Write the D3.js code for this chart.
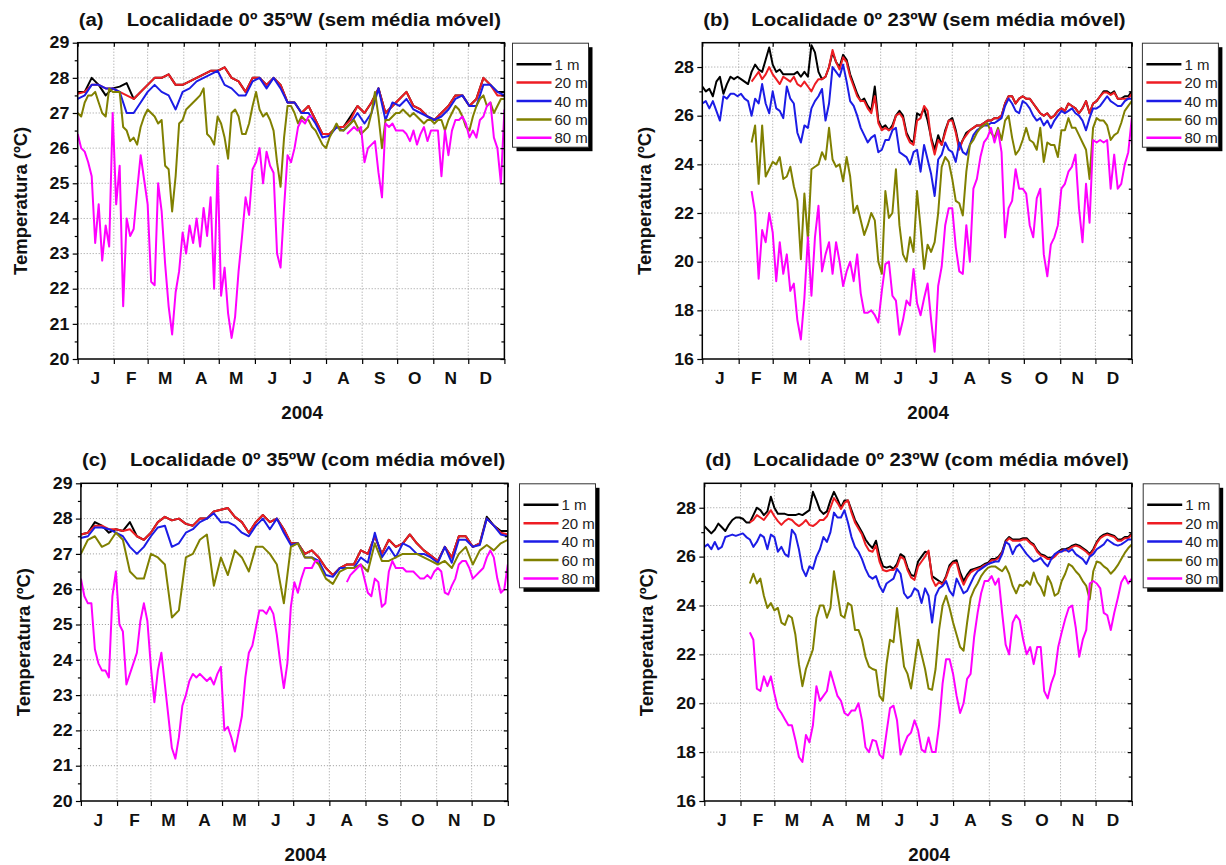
<!DOCTYPE html>
<html>
<head>
<meta charset="utf-8">
<script src="https://cdn.jsdelivr.net/npm/d3@7"></script>
<style>
  body { margin: 0; background: #fff; }
  svg { font-family: 'Liberation Sans', Arial, sans-serif; }
</style>
</head>
<body>
<div id="chart"></div>
<script>
var monthLabels = ['J', 'F', 'M', 'A', 'M', 'J', 'J', 'A', 'S', 'O', 'N', 'D'];
var depthLabels = ['1 m', '20 m', '40 m', '60 m', '80 m'];
var depthColors = ['#000000', '#ee1d23', '#1c1ce6', '#808000', '#ff00ff'];
var yearLabel = '2004';
var yTitle = 'Temperatura (ºC)';

// (a) 0º 35ºW, daily values without moving average (1/20/40 m every 6 days, 60/80 m every 3 days)
var a_1m = [27.6,27.6,28.0,27.8,27.5,27.7,27.75,27.85,27.4,27.6,27.8,28.0,28.0,28.1,27.8,27.8,27.9,28.0,28.1,28.2,28.2,28.3,28.0,27.9,27.6,28.0,28.0,27.8,28.0,27.8,27.3,27.3,27.0,27.2,26.8,26.4,26.4,26.6,26.6,26.9,27.2,27.0,27.3,27.7,27.0,27.2,27.4,27.6,27.2,27.1,26.9,26.8,27.0,27.2,27.5,27.5,27.2,27.4,28.0,27.8,27.6,27.6];
var a_20m = [27.55,27.6,27.8,27.8,27.7,27.7,27.6,27.5,27.4,27.6,27.8,28.0,28.0,28.1,27.8,27.8,27.9,28.0,28.1,28.2,28.2,28.3,28.0,27.9,27.6,28.0,28.0,27.8,28.0,27.8,27.3,27.3,27.0,27.2,26.8,26.4,26.4,26.6,26.6,26.8,27.2,27.0,27.3,27.7,27.0,27.2,27.4,27.6,27.2,27.1,26.9,26.8,27.0,27.2,27.5,27.5,27.2,27.4,28.0,27.8,27.5,27.5];
var a_40m = [27.4,27.5,27.8,27.8,27.7,27.7,27.6,27.0,27.0,27.3,27.6,27.8,27.6,27.5,27.1,27.6,27.7,27.9,28.0,28.1,28.2,27.8,27.7,27.5,27.5,27.9,28.0,27.7,28.0,27.7,27.3,27.3,27.0,27.0,26.7,26.3,26.35,26.6,26.5,26.7,27.0,26.7,27.0,27.7,26.8,27.3,27.2,27.4,27.1,27.0,26.9,26.8,26.9,27.1,27.4,27.5,27.2,27.2,27.8,27.8,27.6,27.5];
var a_60m = [27.0,26.9,27.3,27.5,27.5,27.6,27.3,27.0,26.9,27.7,
  27.6,27.6,27.6,26.6,26.5,26.2,26.3,26.1,26.6,26.9,
  27.1,27.0,26.9,26.7,26.8,25.5,25.4,24.2,25.2,26.7,
  26.8,27.1,27.2,27.3,27.4,27.5,27.7,26.4,26.3,26.1,
  26.9,26.7,26.3,25.7,27.0,27.1,26.9,26.4,26.4,26.7,
  27.2,27.6,27.1,26.9,27.0,26.8,26.5,25.6,24.9,26.3,
  27.2,27.2,27.0,26.7,26.9,26.8,26.8,26.6,26.5,26.3,
  26.1,26.0,26.3,26.5,26.7,26.5,26.5,26.6,26.7,26.8,
  26.6,26.4,26.5,26.6,27.0,27.6,26.9,26.0,26.8,26.8,
  26.9,27.0,27.0,27.1,27.0,26.9,27.0,26.9,26.8,26.7,
  26.8,26.8,26.7,26.8,26.8,26.5,26.8,27.0,27.2,27.1,
  26.9,26.6,26.5,26.9,27.2,27.4,27.5,27.2,27.3,27.0,
  27.2,27.4,27.4];
var a_80m = [26.4,26.0,25.9,25.6,25.2,23.3,24.4,22.8,23.8,23.2,
  27.0,24.4,25.5,21.5,24.0,23.5,23.7,24.8,25.8,25.1,
  24.4,22.2,22.1,25.0,24.2,22.7,21.5,20.7,21.9,22.5,
  23.6,23.0,23.8,23.3,24.0,23.2,24.3,23.5,24.6,22.0,
  25.5,21.8,22.6,21.3,20.6,21.2,22.5,23.5,24.6,24.1,
  25.4,25.6,26.0,25.0,25.9,25.5,25.3,23.0,22.6,24.3,
  25.8,25.6,26.0,26.6,26.8,26.7,26.9,26.9,null,null,
  null,null,null,null,null,null,null,26.4,26.5,26.6,
  26.5,26.6,25.6,26.0,26.1,26.2,25.3,24.6,26.7,26.6,
  26.7,26.5,26.5,26.5,26.4,26.2,26.5,26.1,26.4,26.6,
  26.2,26.5,26.5,26.5,25.2,26.5,25.8,26.5,26.8,26.8,
  26.9,26.7,26.3,26.5,26.3,26.8,26.9,27.2,27.3,26.3,
  26.0,25.0,27.1];

// (b) 0º 23ºW, without moving average (every 3 days)
var b_1m = [27.2,27.0,27.1,26.8,27.4,27.6,26.9,27.3,27.6,27.5,
  27.6,27.5,27.4,27.3,27.8,28.1,27.9,27.8,28.3,28.8,
  28.1,27.8,27.9,27.7,27.7,27.7,27.7,27.8,27.6,27.8,
  27.6,28.9,28.6,27.8,27.5,27.6,28.0,28.6,28.2,28.0,
  28.5,28.3,27.7,27.3,26.9,26.6,26.7,26.4,26.2,27.2,
  25.8,25.5,25.6,25.4,25.6,26.0,26.2,26.0,25.3,25.0,
  24.9,26.1,26.0,26.3,25.8,25.1,24.6,25.2,24.8,25.4,
  25.8,25.9,25.4,24.7,25.0,25.3,25.4,25.5,25.6,25.6,
  25.7,25.8,25.8,25.9,25.9,26.0,26.5,26.8,26.8,26.5,
  26.7,26.8,26.7,26.7,26.5,26.3,26.1,26.0,26.1,25.9,
  26.0,26.2,26.3,26.2,26.5,26.4,26.3,26.1,26.3,26.6,
  26.1,26.5,26.6,26.8,27.0,27.0,26.9,27.0,26.7,26.7,
  26.8,26.8,27.0];
var b_20m = [null,null,null,null,null,null,null,null,null,null,
  null,null,null,null,27.4,27.6,27.8,27.5,27.7,28.0,
  27.7,27.5,27.3,27.6,27.5,27.4,27.6,27.3,27.2,27.4,
  27.2,27.0,27.3,27.5,27.5,27.6,28.0,28.7,28.2,27.9,
  28.4,28.2,27.6,27.2,26.8,26.6,26.6,26.3,26.1,26.8,
  25.7,25.4,25.5,25.4,25.5,26.0,26.1,25.9,25.2,24.9,
  24.8,25.8,25.9,26.4,26.2,25.0,24.4,25.0,24.8,25.3,
  25.8,25.8,25.3,24.6,25.0,25.2,25.4,25.5,25.6,25.6,
  25.7,25.8,25.8,25.9,25.9,26.0,26.5,26.8,26.8,26.5,
  26.7,26.8,26.7,26.7,26.5,26.3,26.1,26.0,26.1,25.9,
  26.0,26.2,26.3,26.2,26.5,26.4,26.3,26.1,26.3,26.6,
  26.1,26.5,26.6,26.8,26.95,26.95,26.85,26.95,26.7,26.7,
  26.7,26.7,26.9];
var b_40m = [26.5,26.6,26.3,26.6,26.2,25.8,26.8,26.7,26.9,26.9,
  26.8,26.9,26.7,26.6,26.0,26.7,26.5,27.3,26.5,26.1,
  27.0,26.3,26.2,25.9,27.2,26.7,26.5,25.3,24.9,25.6,
  25.5,26.3,26.6,26.8,27.1,25.8,26.5,28.0,27.8,27.6,
  28.1,27.4,26.6,26.4,26.0,25.5,25.2,24.9,25.1,25.2,
  24.5,24.6,25.0,25.0,25.4,25.5,24.5,24.4,24.3,24.0,
  24.5,24.6,23.7,24.8,24.2,23.6,22.7,24.2,24.4,24.9,
  24.6,24.5,24.1,24.9,24.5,24.4,24.8,25.2,25.4,25.5,
  25.6,25.6,25.7,25.7,25.8,25.9,26.4,26.7,26.5,26.2,
  26.1,26.6,26.5,26.3,26.0,25.8,25.9,25.6,25.8,25.5,
  25.8,26.0,26.2,26.1,26.2,26.3,26.1,26.0,25.8,25.4,
  25.9,26.3,26.3,26.4,26.6,26.8,26.6,26.5,26.4,26.4,
  26.6,26.7,26.7];
var b_60m = [null,null,null,null,null,null,null,null,null,null,
  null,null,null,null,24.9,25.6,23.2,25.6,23.5,23.8,
  24.1,24.0,24.3,23.4,23.5,23.9,23.1,22.5,20.1,22.8,
  20.9,23.8,23.9,24.0,24.5,24.2,25.5,24.2,23.9,24.0,
  23.3,24.3,23.5,22.0,22.3,21.7,21.1,21.5,22.0,21.7,
  20.0,19.5,22.9,21.8,22.0,23.8,21.5,20.3,20.0,21.0,
  20.4,22.9,21.4,19.7,20.7,20.4,20.8,22.0,23.9,24.3,
  24.1,23.4,22.5,22.4,21.9,23.7,24.8,25.0,25.3,25.5,
  25.6,25.7,25.3,25.1,25.5,25.0,25.8,26.0,25.1,24.4,
  24.6,25.0,25.5,25.0,24.9,24.6,25.5,24.1,24.9,24.8,
  24.8,24.3,25.4,25.4,25.9,25.5,25.5,25.2,24.9,24.6,
  23.4,25.5,25.9,25.8,25.8,25.6,25.0,25.2,25.3,25.7,
  26.2,26.4,26.6];
var b_80m = [null,null,null,null,null,null,null,null,null,null,
  null,null,null,null,22.9,22.0,19.3,21.3,20.8,22.0,
  21.2,19.2,20.8,19.5,20.3,18.8,19.1,17.6,16.8,18.5,
  21.0,18.6,21.0,22.3,19.6,20.3,20.8,19.5,20.8,20.0,
  19.0,19.6,20.0,19.2,20.3,18.7,17.9,17.9,18.0,17.8,
  17.5,18.8,19.9,20.0,18.6,18.4,17.0,17.6,18.4,18.2,
  19.7,18.3,17.8,18.5,19.1,17.6,16.3,19.0,19.8,21.5,
  22.2,22.2,20.6,19.6,19.5,21.5,20.0,23.0,23.4,24.3,
  24.9,25.1,25.5,24.9,25.4,24.5,21.0,22.2,22.5,23.8,
  23.0,23.0,22.8,21.5,21.0,22.6,23.0,20.3,19.4,20.7,
  21.0,21.5,23.0,23.2,23.7,23.9,24.4,22.2,20.8,23.2,
  21.6,25.0,24.9,25.0,24.9,25.0,23.0,24.4,23.0,23.2,
  24.0,24.5,25.9];

// (c) 0º 35ºW, with moving average (1/20/40/60 m every 6 days, 80 m every 3 days)
var c_1m = [27.55,27.6,27.9,27.8,27.6,27.7,27.65,27.9,27.5,27.4,27.6,27.9,28.05,27.95,28.0,27.85,27.8,28.0,28.0,28.2,28.25,28.3,28.05,27.9,27.6,27.9,28.1,27.9,28.0,27.7,27.3,27.3,27.0,27.1,26.9,26.6,26.4,26.6,26.7,26.7,27.1,27.0,27.5,27.0,27.4,27.2,27.3,27.55,27.3,27.1,26.95,26.8,27.2,26.9,27.5,27.5,27.2,27.3,28.05,27.8,27.65,27.65];
var c_20m = [27.55,27.6,27.8,27.8,27.7,27.7,27.65,27.7,27.5,27.4,27.6,27.9,28.05,27.95,28.0,27.85,27.8,28.0,28.0,28.2,28.25,28.3,28.05,27.9,27.6,27.9,28.1,27.9,28.0,27.7,27.3,27.3,27.0,27.1,26.9,26.6,26.4,26.6,26.7,26.7,27.1,27.0,27.5,27.0,27.4,27.2,27.3,27.55,27.3,27.1,26.95,26.8,27.2,26.9,27.5,27.5,27.2,27.3,28.0,27.8,27.6,27.55];
var c_40m = [27.45,27.5,27.75,27.75,27.7,27.6,27.5,27.2,27.0,27.2,27.5,27.75,27.8,27.2,27.3,27.6,27.7,27.9,28.0,28.15,27.9,27.9,27.8,27.6,27.5,27.8,28.0,27.7,28.0,27.6,27.25,27.3,26.9,26.9,26.8,26.4,26.35,26.6,26.6,26.6,26.9,26.75,27.6,26.9,27.2,26.9,27.3,27.2,27.0,27.0,26.9,26.75,27.2,26.75,27.4,27.4,27.2,27.25,28.0,27.8,27.55,27.5];
var c_60m = [27.0,27.4,27.5,27.2,27.3,27.6,27.4,26.5,26.3,26.3,27.0,26.9,26.7,25.2,25.4,26.9,27.0,27.4,27.55,26.1,26.9,26.4,27.1,26.9,26.5,27.2,27.2,27.0,26.7,25.6,27.2,27.3,26.9,26.9,26.7,26.3,26.15,26.5,26.6,26.6,26.7,26.5,27.3,26.8,26.8,26.9,27.0,27.0,27.0,26.9,26.8,26.7,26.8,26.6,27.0,27.2,26.7,27.1,27.25,27.1,27.3,27.4];
var c_80m = [26.3,25.8,25.6,25.6,24.3,23.9,23.7,23.7,23.5,25.8,
  26.5,25.0,24.8,23.3,23.6,23.9,24.2,25.1,25.6,25.1,
  23.8,22.8,23.7,24.2,23.3,22.4,21.5,21.2,21.8,22.7,
  23.0,23.4,23.6,23.5,23.6,23.5,23.4,23.5,23.3,23.6,
  23.8,22.0,22.1,21.8,21.4,21.9,22.4,23.5,24.2,24.4,
  24.9,25.4,25.4,25.3,25.5,25.3,24.7,23.9,23.2,23.9,
  25.5,26.2,25.9,26.3,26.6,26.6,26.6,26.8,26.8,null,
  null,null,null,null,null,null,26.2,26.4,26.5,26.6,
  26.7,26.3,25.9,25.8,26.3,26.2,25.5,25.6,26.5,26.8,
  26.6,26.6,26.6,26.5,26.5,26.5,26.4,26.3,26.3,26.4,
  26.3,26.5,26.6,26.5,25.9,25.85,26.1,26.3,26.7,26.8,
  26.8,26.6,26.3,26.4,26.5,26.6,26.9,27.1,26.9,26.3,
  25.9,26.0,26.7];

// (d) 0º 23ºW, with moving average (every 3 days)
var d_1m = [27.25,27.1,26.95,27.1,27.35,27.2,27.05,27.3,27.5,27.6,
  27.6,27.55,27.4,27.4,27.7,28.0,27.9,27.7,27.85,28.45,
  28.0,27.75,27.75,27.75,27.7,27.7,27.7,27.75,27.7,27.8,
  27.9,28.65,28.3,27.9,27.75,27.85,28.3,28.65,28.35,28.0,
  28.3,28.3,27.9,27.5,27.25,27.0,26.7,26.5,26.35,26.65,
  26.0,25.6,25.55,25.6,25.5,25.7,26.1,26.0,25.55,25.25,
  25.2,25.8,26.0,26.2,26.15,25.2,25.1,25.0,24.9,25.2,
  25.65,25.8,25.85,25.35,25.0,25.25,25.45,25.5,25.55,25.6,
  25.7,25.75,25.9,25.9,26.0,26.2,26.65,26.8,26.7,26.7,
  26.7,26.75,26.75,26.6,26.5,26.25,26.1,26.05,25.95,25.95,
  26.05,26.2,26.3,26.3,26.35,26.45,26.5,26.45,26.35,26.25,
  26.1,26.3,26.6,26.8,26.9,26.95,26.9,26.85,26.7,26.7,
  26.8,26.8,26.95];
var d_20m = [null,null,null,null,null,null,null,null,null,null,
  null,null,null,27.4,27.5,27.7,27.6,27.5,27.7,27.9,
  27.65,27.45,27.3,27.45,27.55,27.5,27.35,27.25,27.35,27.5,
  27.3,27.25,27.35,27.5,27.5,27.65,28.0,28.4,28.2,27.95,
  28.2,28.3,27.8,27.4,27.15,26.9,26.5,26.25,26.2,26.45,
  25.8,25.45,25.4,25.45,25.45,25.6,26.0,25.9,25.45,25.15,
  25.05,25.6,25.8,26.0,26.25,25.1,24.8,24.95,24.85,25.15,
  25.55,25.75,25.75,25.2,24.85,25.15,25.35,25.45,25.5,25.55,
  25.65,25.7,25.85,25.85,25.95,26.15,26.6,26.75,26.65,26.65,
  26.65,26.7,26.7,26.55,26.45,26.2,26.05,26.0,25.9,25.9,
  26.0,26.15,26.25,26.25,26.3,26.4,26.45,26.4,26.3,26.2,
  26.05,26.25,26.55,26.75,26.85,26.9,26.85,26.8,26.65,26.65,
  26.75,26.75,26.9];
var d_40m = [26.4,26.5,26.3,26.6,26.3,26.4,26.8,26.85,26.9,26.85,
  26.9,26.95,26.8,26.7,26.4,26.6,26.9,26.8,26.3,26.9,
  26.8,26.2,26.4,26.1,26.0,27.1,26.9,26.3,25.5,25.2,
  25.6,25.5,26.0,26.3,26.8,26.6,27.0,27.8,27.6,27.6,
  27.9,27.4,26.8,26.4,26.2,25.9,25.5,25.2,25.1,25.2,
  24.8,24.55,24.9,25.0,25.1,25.5,25.3,24.5,24.3,24.4,
  24.7,24.6,24.1,24.7,24.4,23.3,24.4,24.7,24.8,25.0,
  24.6,24.4,25.1,24.8,24.5,24.6,24.9,25.2,25.4,25.5,
  25.6,25.7,25.75,25.8,25.8,26.1,26.6,26.5,26.1,26.4,
  26.5,26.3,26.1,25.95,25.8,25.85,25.95,25.75,25.6,25.9,
  26.1,26.2,26.2,26.3,26.2,26.3,26.1,26.0,25.9,25.7,
  26.0,26.1,26.3,26.4,26.5,26.7,26.6,26.5,26.45,26.5,
  26.6,26.7,26.7];
var d_60m = [null,null,null,null,null,null,null,null,null,null,
  null,null,null,24.9,25.3,24.9,25.1,24.4,23.9,24.1,
  23.8,23.9,23.3,23.2,23.6,23.5,22.8,21.6,20.7,21.4,
  21.8,22.2,23.5,24.0,24.0,23.5,23.9,25.4,24.5,23.6,
  23.5,24.1,24.0,23.0,23.0,22.6,21.9,21.5,21.4,21.35,
  20.3,20.1,21.6,22.6,22.5,23.9,22.7,21.5,21.2,20.6,
  21.6,22.6,22.0,21.4,20.6,20.55,21.4,23.0,24.0,24.4,
  23.9,23.3,22.8,22.3,22.15,23.3,24.3,24.65,24.9,25.2,
  25.4,25.55,25.6,25.6,25.5,25.4,25.6,25.3,24.8,24.5,
  24.85,24.8,25.0,24.85,25.35,24.95,24.75,24.4,25.2,24.9,
  24.4,24.5,25.0,25.3,25.7,25.6,25.4,25.25,25.0,24.8,
  24.25,25.4,25.8,25.75,25.6,25.5,25.3,25.45,25.65,25.9,
  26.15,26.35,26.5];
var d_80m = [null,null,null,null,null,null,null,null,null,null,
  null,null,null,22.9,22.6,20.6,20.5,21.1,20.7,21.1,
  20.4,19.8,19.6,19.35,19.1,19.1,18.5,17.8,17.6,18.7,
  18.4,19.1,20.7,20.1,20.3,20.5,21.3,20.8,20.3,20.1,
  19.6,19.5,19.7,19.7,20.0,19.3,18.2,18.0,18.5,18.45,
  17.9,17.75,18.8,19.8,19.9,19.3,17.9,18.3,18.65,18.8,
  19.3,18.9,18.1,18.0,18.6,18.0,18.0,19.1,20.8,21.8,
  21.8,21.2,20.3,19.6,20.0,21.0,21.2,22.7,23.7,24.5,
  25.0,25.0,25.2,24.85,25.1,23.7,22.4,22.0,23.3,23.6,
  23.4,22.6,22.0,22.3,21.6,22.3,22.3,20.5,20.2,20.8,
  21.2,22.3,22.9,23.45,23.9,24.0,23.1,21.9,22.6,23.0,
  24.9,25.0,24.9,24.7,23.7,23.6,23.0,23.7,24.3,24.95,
  25.2,24.9,25.1];

var panels = [
  { tag: '(a)', title: 'Localidade 0º 35ºW (sem média móvel)',
    l: 77.7, r: 504.4, t: 42.7, b: 359, yDom: [20, 29],
    major: d3.range(20, 30), minor: d3.range(20.5, 29, 1),
    series: [[a_1m, 6], [a_20m, 6], [a_40m, 6], [a_60m, 3], [a_80m, 3]], legX: 512.5 },
  { tag: '(b)', title: 'Localidade 0º 23ºW (sem média móvel)',
    l: 702.3, r: 1131.8, t: 42.7, b: 359, yDom: [16, 29],
    major: d3.range(16, 29, 2), minor: d3.range(17, 29, 2),
    series: [[b_1m, 3], [b_20m, 3], [b_40m, 3], [b_60m, 3], [b_80m, 3]], legX: 1142.4 },
  { tag: '(c)', title: 'Localidade 0º 35ºW (com média móvel)',
    l: 80.9, r: 507.8, t: 483.3, b: 801, yDom: [20, 29],
    major: d3.range(20, 30), minor: d3.range(20.5, 29, 1),
    series: [[c_1m, 6], [c_20m, 6], [c_40m, 6], [c_60m, 6], [c_80m, 3]], legX: 519.5 },
  { tag: '(d)', title: 'Localidade 0º 23ºW (com média móvel)',
    l: 704.3, r: 1131.8, t: 483.3, b: 801, yDom: [16, 29],
    major: d3.range(16, 29, 2), minor: d3.range(17, 29, 2),
    series: [[d_1m, 3], [d_20m, 3], [d_40m, 3], [d_60m, 3], [d_80m, 3]], legX: 1143.2 }
];

var yearStart = new Date(2004, 0, 1);
var yearEnd = new Date(2005, 0, 1);
var monthStarts = d3.timeMonth.range(yearStart, new Date(2005, 0, 2));

var svg = d3.select('#chart').append('svg')
  .attr('width', 1226)
  .attr('height', 865);

// text in the source figure is a little wider than it is tall
function stretched(g, x, y, txt, size, anchor, sx, weight) {
  return g.append('text')
    .attr('transform', 'translate(' + x + ',' + y + ') scale(' + sx + ',1)')
    .attr('text-anchor', anchor)
    .style('font-size', size + 'px')
    .style('font-weight', weight || 'bold')
    .text(txt);
}

function styleAxis(sel) {
  sel.attr('font-family', null).attr('font-size', null);
  sel.select('.domain').remove();
  sel.selectAll('.tick line').attr('stroke', '#000').attr('stroke-width', 1.2);
}

function drawPanel(p, pi) {

  var x = d3.scaleTime().domain([yearStart, yearEnd]).range([p.l, p.r]);
  var y = d3.scaleLinear().domain(p.yDom).range([p.b, p.t]);
  var g = svg.append('g');

  // grid
  g.append('g').selectAll('line')
    .data(monthStarts.slice(1, -1))
    .enter().append('line')
    .attr('x1', function(d) { return x(d); })
    .attr('x2', function(d) { return x(d); })
    .attr('y1', p.t).attr('y2', p.b)
    .attr('stroke', '#9a9a9a').attr('stroke-width', 1)
    .attr('stroke-dasharray', '1,2');

  g.append('g').selectAll('line')
    .data(p.major.filter(function(v) { return v > p.yDom[0] && v < p.yDom[1]; }))
    .enter().append('line')
    .attr('x1', p.l).attr('x2', p.r)
    .attr('y1', function(d) { return y(d); })
    .attr('y2', function(d) { return y(d); })
    .attr('stroke', '#9a9a9a').attr('stroke-width', 1)
    .attr('stroke-dasharray', '1,2');

  // series
  var clipId = 'clip' + pi;
  svg.append('clipPath').attr('id', clipId).append('rect')
    .attr('x', p.l).attr('y', p.t).attr('width', p.r - p.l).attr('height', p.b - p.t);

  var lines = g.append('g').attr('clip-path', 'url(#' + clipId + ')');

  p.series.forEach(function(s, si) {
    var step = s[1];
    var line = d3.line()
      .defined(function(v) { return v !== null; })
      .x(function(v, i) { return x(d3.timeDay.offset(yearStart, i * step)); })
      .y(function(v) { return y(v); });
    lines.append('path')
      .datum(s[0])
      .attr('d', line)
      .attr('fill', 'none')
      .attr('stroke', depthColors[si])
      .attr('stroke-width', 2)
      .attr('stroke-linejoin', 'round');
  });

  // axes
  g.append('g').attr('transform', 'translate(0,' + p.b + ')')
    .call(d3.axisBottom(x).tickValues(monthStarts).tickSize(5).tickSizeOuter(0).tickFormat(''))
    .call(styleAxis);
  g.append('g').attr('transform', 'translate(0,' + p.t + ')')
    .call(d3.axisTop(x).tickValues(monthStarts).tickSize(-4).tickSizeOuter(0).tickFormat(''))
    .call(styleAxis);

  var left = g.append('g').attr('transform', 'translate(' + p.l + ',0)')
    .call(d3.axisLeft(y).tickValues(p.major).tickSize(5).tickPadding(2.7).tickSizeOuter(0).tickFormat(d3.format('d')))
    .call(styleAxis);
  left.selectAll('text')
    .attr('transform', 'scale(1.08,1)')
    .style('font-size', '16.5px')
    .style('font-weight', 'bold')
    .attr('fill', '#111');
  g.append('g').attr('transform', 'translate(' + p.l + ',0)')
    .call(d3.axisLeft(y).tickValues(p.minor).tickSize(3).tickSizeOuter(0).tickFormat(''))
    .call(styleAxis);
  g.append('g').attr('transform', 'translate(' + p.r + ',0)')
    .call(d3.axisRight(y).tickValues(p.major).tickSize(-4).tickSizeOuter(0).tickFormat(''))
    .call(styleAxis);
  g.append('g').attr('transform', 'translate(' + p.r + ',0)')
    .call(d3.axisRight(y).tickValues(p.minor).tickSize(-3).tickSizeOuter(0).tickFormat(''))
    .call(styleAxis);

  g.append('rect')
    .attr('x', p.l).attr('y', p.t)
    .attr('width', p.r - p.l).attr('height', p.b - p.t)
    .attr('fill', 'none').attr('stroke', '#000').attr('stroke-width', 1.5);

  // month letters at mid month
  monthLabels.forEach(function(m, i) {
    stretched(g, x(new Date(2004, i, 16)), p.b + 25, m, 16, 'middle', 1.08).attr('fill', '#111');
  });

  stretched(g, (p.l + p.r) / 2 + 11, p.b + 60, yearLabel, 17.5, 'middle', 1.07).attr('fill', '#111');

  g.append('text')
    .attr('transform', 'translate(' + (p.l - 51) + ',' + ((p.t + p.b) / 2) + ') rotate(-90)')
    .attr('text-anchor', 'middle')
    .style('font-size', '18.5px')
    .style('font-weight', 'bold')
    .attr('fill', '#111')
    .text(yTitle);

  // title
  stretched(g, p.l + 1, p.t - 17, p.tag, 18.5, 'start', 1.1).attr('fill', '#111');
  stretched(g, p.l + 49, p.t - 17, p.title, 18.5, 'start', 1.1).attr('fill', '#111');

  // legend with drop shadow
  var lx = p.legX, ly = p.t + 0.5, lw = 76, lh = 104;
  var leg = g.append('g');
  leg.append('rect')
    .attr('x', lx + 4).attr('y', ly + 4).attr('width', lw).attr('height', lh)
    .attr('fill', '#000');
  leg.append('rect')
    .attr('x', lx).attr('y', ly).attr('width', lw).attr('height', lh)
    .attr('fill', '#fff').attr('stroke', '#333').attr('stroke-width', 1);

  var legClip = 'legclip' + pi;
  svg.append('clipPath').attr('id', legClip).append('rect')
    .attr('x', lx).attr('y', ly).attr('width', lw).attr('height', lh);
  var items = leg.append('g').attr('clip-path', 'url(#' + legClip + ')');

  depthLabels.forEach(function(lab, i) {
    var yy = ly + 21 + i * 18.4;
    items.append('line')
      .attr('x1', lx + 4).attr('x2', lx + 39)
      .attr('y1', yy).attr('y2', yy)
      .attr('stroke', depthColors[i]).attr('stroke-width', 2.5);
    stretched(items, lx + 42, yy + 5.5, lab, 15, 'start', 1.0, 'normal').attr('fill', '#222');
  });
}

panels.forEach(drawPanel);
</script>
</body>
</html>
